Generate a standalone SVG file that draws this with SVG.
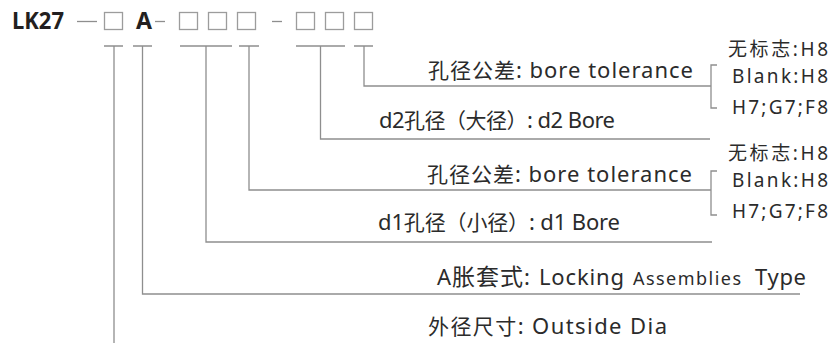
<svg xmlns="http://www.w3.org/2000/svg" width="832" height="343" viewBox="0 0 832 343">
<style>
  text{font-family:"Noto Sans","Noto Sans CJK SC",sans-serif;fill:#2b2b2b}
  .code{font-weight:700;font-size:24px;fill:#231f20}
  .lbl{font-size:22px}
  .cj{font-size:21px}
  .cjA{font-size:23px}
  .sm{font-size:18px}
  .opt{font-size:19px}
  .box{fill:none;stroke:#9c9c9c;stroke-width:1.3}
  .ln{fill:none;stroke:#8e8e8e;stroke-width:1.3}
</style>
<rect width="832" height="343" fill="#ffffff"/>
<g id="code">
  <text class="code" x="12" y="29" textLength="52" lengthAdjust="spacingAndGlyphs">LK27</text>
  <line class="ln" x1="77" y1="21.5" x2="97" y2="21.5"/>
  <rect class="box" x="104.5" y="12.5" width="18" height="17"/>
  <text class="code" x="136" y="29" textLength="16" lengthAdjust="spacingAndGlyphs">A</text>
  <line class="ln" x1="155" y1="21.5" x2="165" y2="21.5"/>
  <rect class="box" x="179.5" y="12.5" width="18" height="17"/>
  <rect class="box" x="208.5" y="12.5" width="18" height="17"/>
  <rect class="box" x="237.5" y="12.5" width="18" height="17"/>
  <line class="ln" x1="272" y1="21.5" x2="282" y2="21.5"/>
  <rect class="box" x="296.5" y="12.5" width="18" height="17"/>
  <rect class="box" x="325.5" y="12.5" width="18" height="17"/>
  <rect class="box" x="354.5" y="12.5" width="18" height="17"/>
</g>
<g id="connectors">
  <path class="ln" d="M104 46H123M114 46V343"/>
  <path class="ln" d="M133 46H152M142.5 46V294H800"/>
  <path class="ln" d="M180 46H232M206 46V242H712"/>
  <path class="ln" d="M239 46H259M249 46V190H711"/>
  <path class="ln" d="M296 46H345M320.5 46V139H710"/>
  <path class="ln" d="M354 46H373M364 46V86H711"/>
  <path class="ln" d="M717 65H711V108H717"/>
  <path class="ln" d="M717 171H711V215H717"/>
</g>
<g id="bore-tolerance-2">
  <text class="lbl" x="428" y="78" textLength="265"><tspan class="cj">孔径公差</tspan>: bore tolerance</text>
  <text class="opt" x="728" y="56" textLength="100">无标志:H8</text>
  <text class="opt" x="732" y="82.5" textLength="96">Blank:H8</text>
  <text class="opt" x="732" y="114" textLength="96">H7;G7;F8</text>
</g>
<g id="d2-bore">
  <text class="lbl" x="379" y="128" textLength="236">d2<tspan class="cj">孔径（大径）</tspan>: d2 Bore</text>
</g>
<g id="bore-tolerance-1">
  <text class="lbl" x="427" y="182" textLength="265"><tspan class="cj">孔径公差</tspan>: bore tolerance</text>
  <text class="opt" x="728" y="160" textLength="100">无标志:H8</text>
  <text class="opt" x="732" y="186.5" textLength="96">Blank:H8</text>
  <text class="opt" x="732" y="218" textLength="96">H7;G7;F8</text>
</g>
<g id="d1-bore">
  <text class="lbl" x="378" y="230" textLength="242">d1<tspan class="cj">孔径（小径）</tspan>: d1 Bore</text>
</g>
<g id="type">
  <text class="lbl" x="437" y="285"><tspan textLength="93">A<tspan class="cjA">胀套式</tspan>:</tspan> <tspan x="539" textLength="85">Locking</tspan> <tspan class="sm" x="633" textLength="108">Assemblies</tspan> <tspan x="755" textLength="51">Type</tspan></text>
</g>
<g id="outside-dia">
  <text class="lbl" x="428" y="334" textLength="239"><tspan class="cj">外径尺寸</tspan>: Outside Dia</text>
</g>
</svg>
